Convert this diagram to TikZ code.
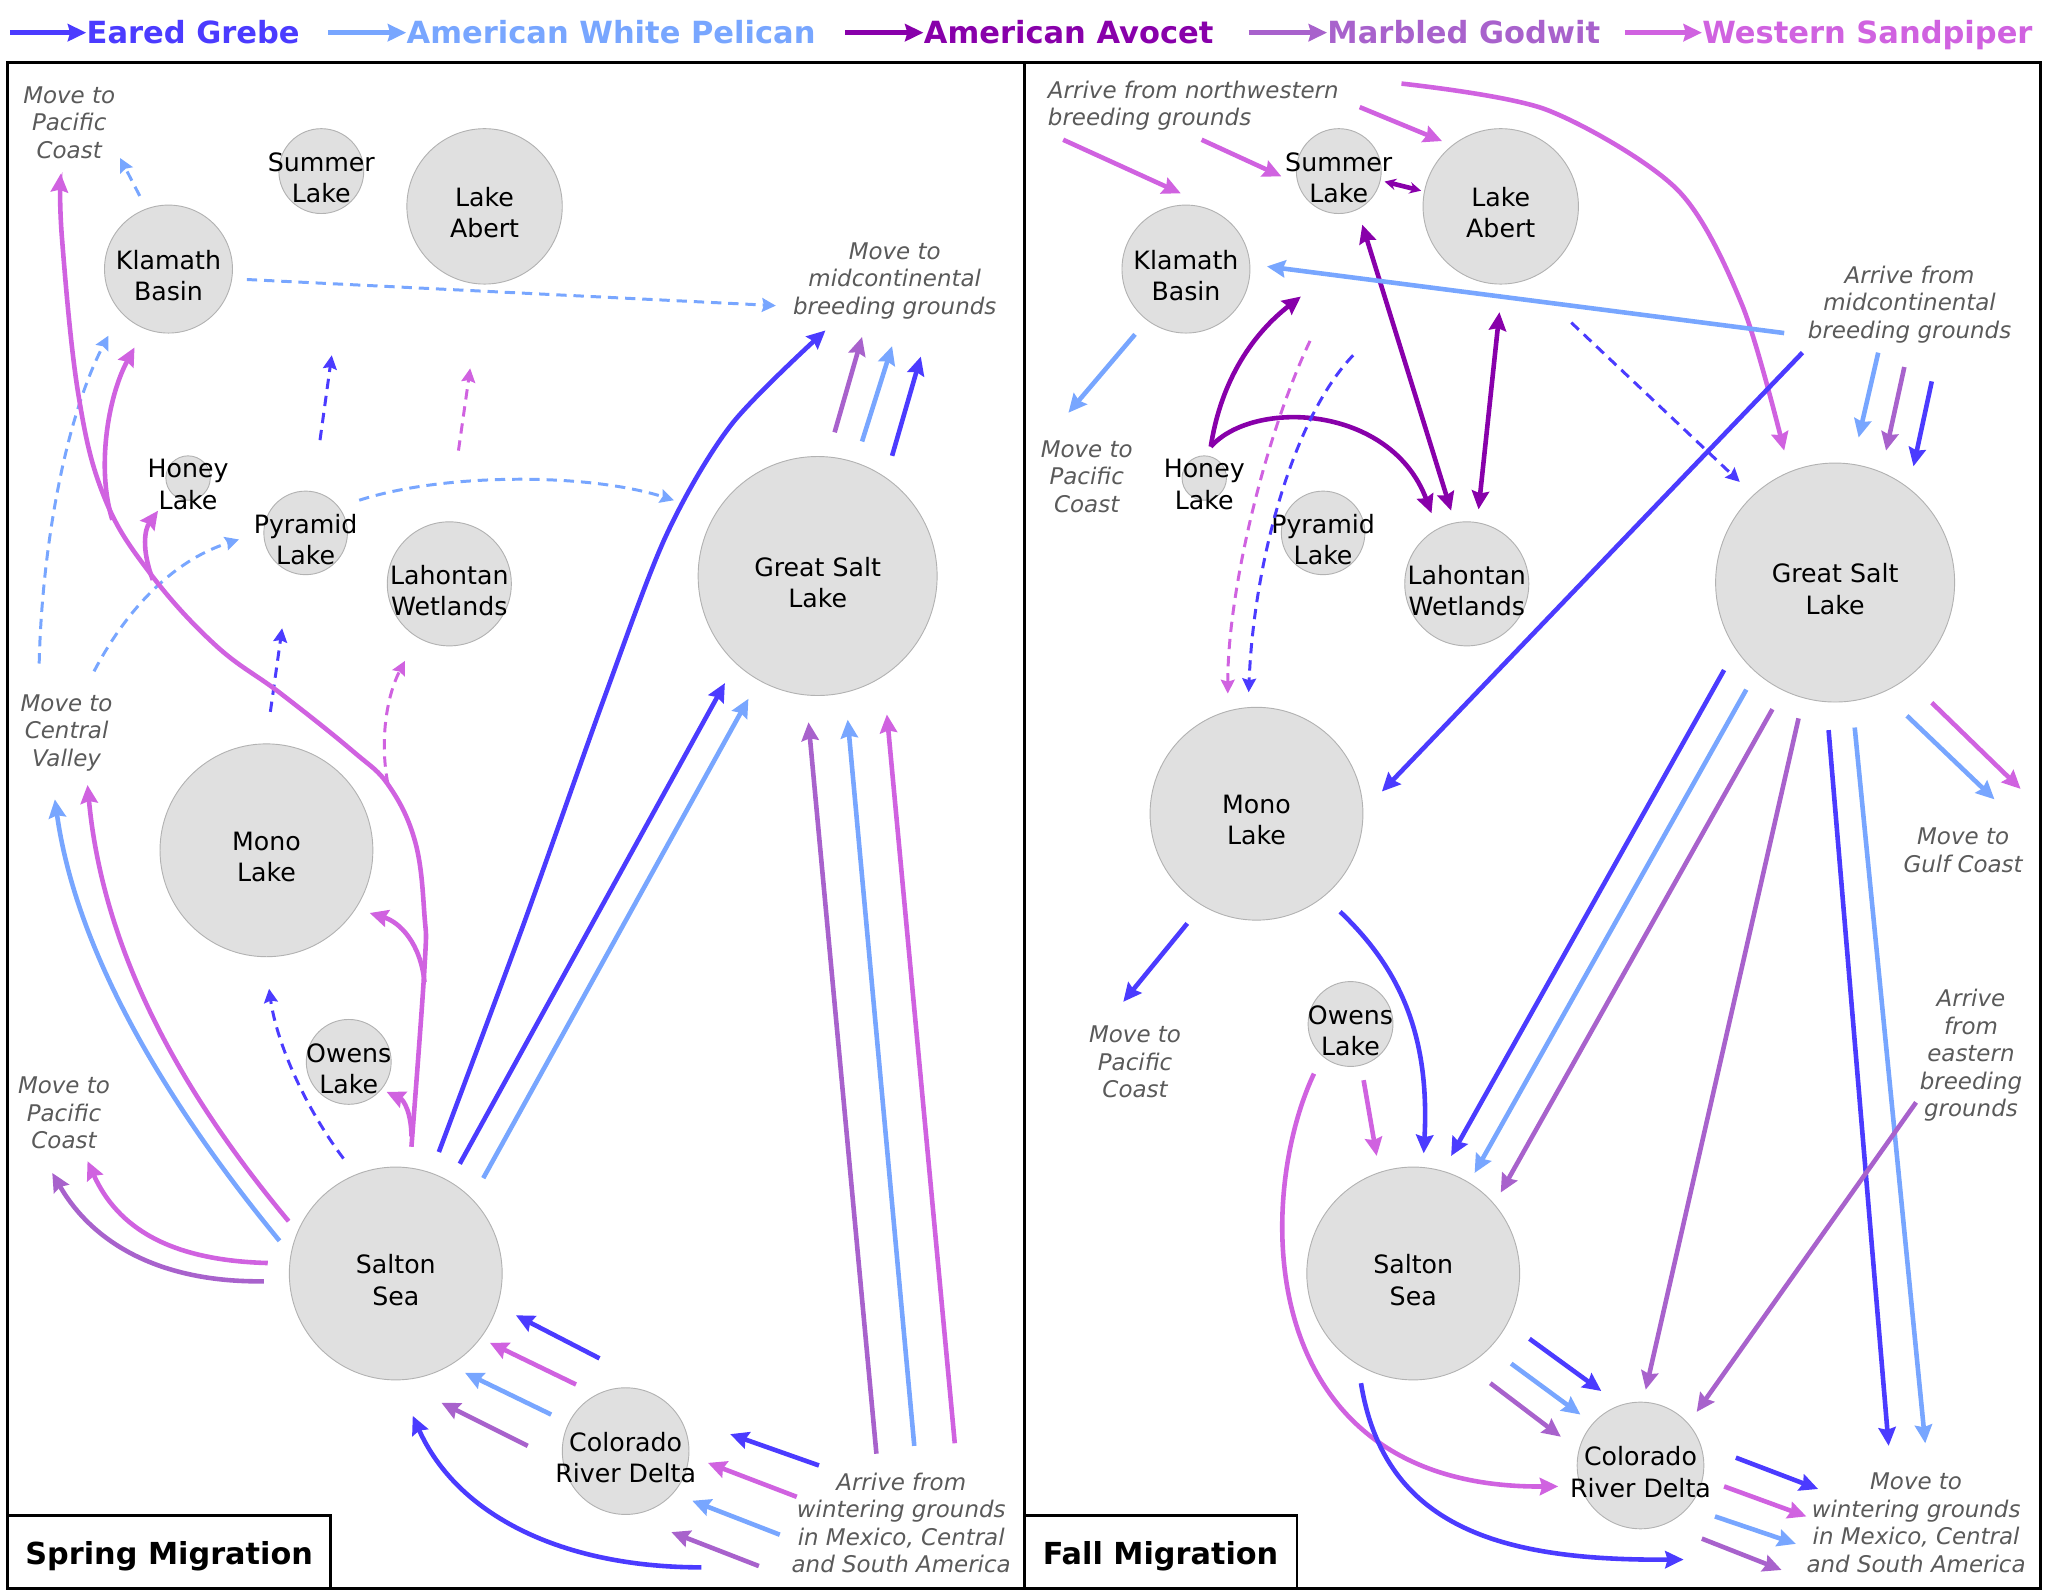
\documentclass[tikz,border=0pt]{standalone}
\usepackage{fontspec}
\setmainfont{DejaVu Sans}
\usetikzlibrary{arrows.meta}
\definecolor{grebe}{HTML}{4B3BFF}
\definecolor{pelican}{HTML}{78A6FF}
\definecolor{avocet}{HTML}{8800AA}
\definecolor{godwit}{HTML}{A862CC}
\definecolor{sandpiper}{HTML}{D062E0}
\definecolor{notegray}{HTML}{5A5A5A}
\tikzset{
    >={Stealth[length=8pt, width=7.5pt, inset=1pt]}, % heads of the flight arrows
    lake/.style={circle, draw=gray!60, fill=gray!24, inner sep=0pt, minimum size=#1}, % one wetland
    lakename/.style={align=center, inner sep=0pt, yshift=-0.1cm, font=\fontsize{11}{13.6}\selectfont},
    note/.style={align=center, inner sep=0pt, yshift=-0.06cm, text=notegray, font=\fontsize{10}{12}\selectfont\itshape},
    fly/.style={->, line width=2pt, draw=#1}, % regular flight
    hop/.style={-{Stealth[length=6pt, width=6pt, inset=0.8pt]}, line width=1.3pt, dash pattern=on 4.5pt off 3pt, draw=#1}, % occasional flight
    legend/.style={anchor=base west, inner sep=0pt, font=\fontsize{13.3}{15}\selectfont\bfseries},
    panel/.style={inner sep=0pt, font=\fontsize{13.2}{15}\selectfont\bfseries},
}

\begin{document}
\begin{tikzpicture}[x=0.02cm, y=-0.02cm]
\useasboundingbox (0,0) rectangle (1568,1220);

% legend
\node[legend, text=grebe] (eg) at (66,33.5) {Eared Grebe};
\draw[fly=grebe] (8,25) -- (66,25);
\node[legend, text=pelican] (wp) at (311,33.5) {American White Pelican};
\draw[fly=pelican] (251,25) -- (311,25);
\node[legend, text=avocet] (aa) at (707,33.5) {American Avocet};
\draw[fly=avocet] (647,25) -- (707,25);
\node[legend, text=godwit] (mg) at (1016,33.5) {Marbled Godwit};
\draw[fly=godwit] (956,25) -- (1016,25);
\node[legend, text=sandpiper] (ws) at (1303,33.5) {Western Sandpiper};
\draw[fly=sandpiper] (1244,25) -- (1303,25);

% frames
\draw[line width=1.3pt] (6,48) rectangle (784,1216);
\draw[line width=1.3pt] (784,48) rectangle (1562,1216);
\draw[line width=1.3pt] (6,1160) rectangle (253,1216);
\draw[line width=1.3pt] (784,1160) rectangle (993,1216);
\node[panel] (spring) at (129.5,1191.5) {Spring Migration};
\node[panel] (fall) at (888.5,1191.5) {Fall Migration};

% spring lakes
\node[lake=1.96cm, label={[lakename]center:Klamath\\Basin}] (kbS) at (129,206) {};
\node[lake=1.30cm, label={[lakename]center:Summer\\Lake}] (slS) at (246,131) {};
\node[lake=2.38cm, label={[lakename]center:Lake\\Abert}] (laS) at (371,158) {};
\node[lake=0.68cm, label={[lakename]center:Honey\\Lake}] (hlS) at (144,366) {};
\node[lake=1.28cm, label={[lakename]center:Pyramid\\Lake}] (plS) at (234,408) {};
\node[lake=1.90cm, label={[lakename]center:Lahontan\\Wetlands}] (lwS) at (344,447) {};
\node[lake=3.66cm, label={[lakename]center:Great Salt\\Lake}] (gsS) at (626,441) {};
\node[lake=3.26cm, label={[lakename]center:Mono\\Lake}] (mlS) at (204,651) {};
\node[lake=1.30cm, label={[lakename]center:Owens\\Lake}] (olS) at (267,813) {};
\node[lake=3.26cm, label={[lakename]center:Salton\\Sea}] (ssS) at (303,975) {};
\node[lake=1.94cm, label={[lakename]center:Colorado\\River Delta}] (crS) at (479,1111) {};

% fall lakes
\node[lake=1.96cm, label={[lakename]center:Klamath\\Basin}] (kbF) at (908,206) {};
\node[lake=1.30cm, label={[lakename]center:Summer\\Lake}] (slF) at (1025,131) {};
\node[lake=2.38cm, label={[lakename]center:Lake\\Abert}] (laF) at (1149,158) {};
\node[lake=0.68cm, label={[lakename]center:Honey\\Lake}] (hlF) at (922,366) {};
\node[lake=1.28cm, label={[lakename]center:Pyramid\\Lake}] (plF) at (1013,408) {};
\node[lake=1.90cm, label={[lakename]center:Lahontan\\Wetlands}] (lwF) at (1123,447) {};
\node[lake=3.66cm, label={[lakename]center:Great Salt\\Lake}] (gsF) at (1405,446) {};
\node[lake=3.26cm, label={[lakename]center:Mono\\Lake}] (mlF) at (962,623) {};
\node[lake=1.30cm, label={[lakename]center:Owens\\Lake}] (olF) at (1034,784) {};
\node[lake=3.26cm, label={[lakename]center:Salton\\Sea}] (ssF) at (1082,975) {};
\node[lake=1.94cm, label={[lakename]center:Colorado\\River Delta}] (crF) at (1256,1122) {};

% spring notes
\node[note] (pc1) at (53,91) {Move to\\Pacific\\Coast};
\node[note] (mc1) at (685,212) {Move to\\midcontinental\\breeding grounds};
\node[note] (cv1) at (51,558) {Move to\\Central\\Valley};
\node[note] (pc2) at (49,849) {Move to\\Pacific\\Coast};
\node[note] (wg1) at (690,1163) {Arrive from\\wintering grounds\\in Mexico, Central\\and South America};

% fall notes
\node[note, align=left, anchor=west] (nw2) at (802,78) {Arrive from northwestern\\breeding grounds};
\node[note] (mc2) at (1462,230) {Arrive from\\midcontinental\\breeding grounds};
\node[note] (pc3) at (832,362) {Move to\\Pacific\\Coast};
\node[note] (gc2) at (1503,648) {Move to\\Gulf Coast};
\node[note] (pc4) at (869,810) {Move to\\Pacific\\Coast};
\node[note] (eb2) at (1509,805) {Arrive\\from\\eastern\\breeding\\grounds};
\node[note] (wg2) at (1467,1163) {Move to\\wintering grounds\\in Mexico, Central\\and South America};

% spring: occasional flights
\draw[hop=pelican] (107,150) -- (92,121);
\draw[hop=pelican] (189,214) -- (594,234);
\draw[hop=pelican] (30,508) .. controls (32,420) and (50,320) .. (83,257);
\draw[hop=pelican] (72,514) .. controls (95,470) and (130,430) .. (183,413);
\draw[hop=pelican] (275,383) .. controls (340,362) and (450,362) .. (516,383);
\draw[hop=grebe] (245,337) -- (254,272);
\draw[hop=sandpiper] (351,345) -- (360,282);
\draw[hop=grebe] (207,545) -- (216,481);
\draw[hop=sandpiper] (297,600) .. controls (291,570) and (295,535) .. (310,506);
\draw[hop=grebe] (263,887) .. controls (235,850) and (212,800) .. (206,757);

% spring: sandpiper route north
\draw[fly=sandpiper] plot[smooth, tension=0.65] coordinates {(315,878) (325,741) (325,701) (318,645) (298,602) (270,575) (215,531) (165,494) (115,439) (80,381) (60,302) (47.5,183) (46.5,133)};
\draw[fly=sandpiper] (325,752) .. controls (322,722) and (306,706) .. (283,699);
\draw[fly=sandpiper] (315,870) .. controls (315,852) and (309,842) .. (296,836);
\draw[fly=sandpiper] (86,398) .. controls (74,360) and (82,305) .. (103,266);
\draw[fly=sandpiper] (117,444) .. controls (108,420) and (111,405) .. (121,391);

% spring: from Salton Sea
\draw[fly=pelican] (214,950) .. controls (140,860) and (60,740) .. (42,612);
\draw[fly=sandpiper] (221,935) .. controls (150,850) and (80,740) .. (67,601);
\draw[fly=sandpiper] (205,967) .. controls (130,965) and (90,940) .. (67,889);
\draw[fly=godwit] (202,981) .. controls (120,982) and (70,950) .. (40,898);
\draw[fly=grebe] plot[smooth] coordinates {(336,882) (400,710) (462,536) (510,410) (560,325) (632,253)};
\draw[fly=grebe] (352,891) -- (555,523);
\draw[fly=pelican] (370,902) -- (573,535);

% spring: Great Salt Lake
\draw[fly=godwit] (639,331) -- (660,258);
\draw[fly=pelican] (660,338) -- (683,265);
\draw[fly=grebe] (683,349) -- (705,273);
\draw[fly=godwit] (671,1113) -- (619,553);
\draw[fly=pelican] (700,1107) -- (649,551);
\draw[fly=sandpiper] (731,1105) -- (679,547);

% spring: from the south
\draw[fly=grebe] (459,1040) -- (395,1007);
\draw[fly=sandpiper] (441,1060) -- (375,1028);
\draw[fly=pelican] (422,1083) -- (356,1051);
\draw[fly=godwit] (404,1107) -- (338,1074);
\draw[fly=grebe] (627,1122) -- (559,1098);
\draw[fly=sandpiper] (610,1146) -- (542,1120);
\draw[fly=pelican] (597,1175) -- (530,1149);
\draw[fly=godwit] (581,1199) -- (514,1173);
\draw[fly=grebe] (537,1200) .. controls (430,1200) and (350,1160) .. (316,1084);

% fall: from the north
\draw[fly=sandpiper] (814,107) -- (904,148);
\draw[fly=sandpiper] (920,107) -- (981,135);
\draw[fly=sandpiper] (1041,82) -- (1104,108);
\draw[fly=sandpiper] plot[smooth] coordinates {(1073,64) (1184,84) (1284,145) (1334,234) (1366,345)};

% fall: avocet moves
\draw[fly=avocet, {Stealth[length=5pt, width=5pt]}-{Stealth[length=5pt, width=5pt]}] (1060,139) -- (1088,146);
\draw[fly=avocet, <->] (1043,172) -- (1111,391);
\draw[fly=avocet, <->] (1148,239) -- (1132,390);
\draw[fly=avocet] (927,342) .. controls (935,290) and (960,255) .. (996,227);
\draw[fly=avocet] (927,342) .. controls (960,305) and (1065,310) .. (1096,393);

% fall: pelican and grebe
\draw[fly=pelican] (1366,255) -- (970,204);
\draw[fly=pelican] (869,256) -- (818,316);
\draw[hop=sandpiper] (1003,261) .. controls (970,330) and (940,450) .. (940,531);
\draw[hop=grebe] (1036,272) .. controls (990,320) and (960,430) .. (956,530);
\draw[hop=grebe] (1203,247) -- (1332,369);
\draw[fly=grebe] (1380,270) -- (1058,606);
\draw[fly=pelican] (1438,270) -- (1423,335);
\draw[fly=godwit] (1458,281) -- (1444,345);
\draw[fly=grebe] (1479,292) -- (1465,357);

% fall: from Great Salt Lake
\draw[fly=grebe] (1320,513) -- (1111,885);
\draw[fly=pelican] (1337,528) -- (1129,898);
\draw[fly=godwit] (1357,543) -- (1149,913);
\draw[fly=godwit] (1377,550) -- (1260,1064);
\draw[fly=grebe] (1400,559) -- (1446,1107);
\draw[fly=pelican] (1420,557) -- (1474,1105);
\draw[fly=pelican] (1460,548) -- (1527,612);
\draw[fly=sandpiper] (1479,538) -- (1547,604);

% fall: southern lakes
\draw[fly=grebe] (909,707) -- (860,767);
\draw[fly=grebe] (1026,698) .. controls (1070,740) and (1095,790) .. (1090,883);
\draw[fly=sandpiper] (1044,827) -- (1054,885);
\draw[fly=sandpiper] (1006,822) .. controls (960,920) and (960,1140) .. (1193,1138);
\draw[fly=grebe] (1042,1059) .. controls (1060,1170) and (1150,1195) .. (1289,1194);
\draw[fly=grebe] (1171,1025) -- (1226,1065);
\draw[fly=pelican] (1157,1044) -- (1210,1083);
\draw[fly=godwit] (1141,1059) -- (1195,1100);
\draw[fly=godwit] (1467,844) -- (1299,1081);
\draw[fly=grebe] (1329,1116) -- (1392,1140);
\draw[fly=sandpiper] (1320,1138) -- (1383,1161);
\draw[fly=pelican] (1313,1161) -- (1375,1182);
\draw[fly=godwit] (1303,1178) -- (1364,1202);
\end{tikzpicture}
\end{document}
